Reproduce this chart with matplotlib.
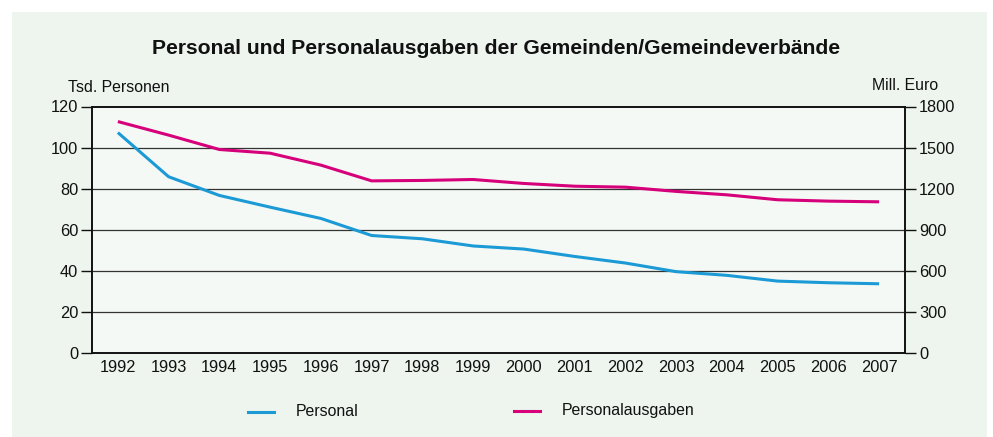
import matplotlib.pyplot as plt
from matplotlib.patches import Rectangle
from matplotlib.lines import Line2D

plt.rcParams['font.family'] = ['Liberation Sans', 'DejaVu Sans']

years = list(range(1992, 2008))
personal = [107.3, 85.8, 76.7, 71.0, 65.5, 57.2, 55.6, 52.1,
            50.6, 47.0, 43.8, 39.6, 37.8, 35.0, 34.2, 33.7]
ausgaben = [1690, 1591, 1486, 1459, 1372, 1257, 1260, 1267,
            1238, 1218, 1211, 1180, 1155, 1119, 1109, 1104]
left_ticks = [0, 20, 40, 60, 80, 100, 120]
right_ticks = [0, 300, 600, 900, 1200, 1500, 1800]

blue = '#1b9ad6'
magenta = '#d6007a'

fig = plt.figure(figsize=(9.93, 4.37), dpi=100)
fig.patch.set_facecolor('white')
# green panel behind everything
fig.patches.append(Rectangle((12 / 993, 0), 975 / 993, 425 / 437,
                             transform=fig.transFigure, facecolor='#eef5ee',
                             edgecolor='none', zorder=-10))

ax = fig.add_axes([92 / 993, 84 / 437, 813 / 993, 246.5 / 437])
ax.set_facecolor('#f5f9f6')
ax2 = ax.twinx()

ax.plot(years, personal, color=blue, lw=2.2, solid_capstyle='butt', zorder=3)
ax2.plot(years, ausgaben, color=magenta, lw=2.2, solid_capstyle='butt', zorder=3)

ax.set_xlim(1991.49, 2007.51)
ax.set_ylim(0, 120)
ax2.set_ylim(0, 1800)
ax.set_yticks(left_ticks)
ax2.set_yticks(right_ticks)
ax.set_xticks(years)
ax.set_xticklabels([str(y) for y in years])

# horizontal grid
for v in left_ticks[1:-1]:
    ax.axhline(v, color='#333333', lw=0.9, zorder=1)

for a in (ax, ax2):
    for s in a.spines.values():
        s.set_color('#111111')
        s.set_linewidth(1.2)
ax.tick_params(axis='y', length=8, width=1, labelsize=11.8, pad=2, colors='#111111')
ax2.tick_params(axis='y', length=8, width=1, labelsize=11.8, pad=2, colors='#111111')
ax.tick_params(axis='x', length=0, labelsize=11.8, pad=5, colors='#111111')

# formatting
fig.text(0.5, 0.89, 'Personal und Personalausgaben der Gemeinden/Gemeindeverbände',
         ha='center', va='center', fontsize=15.2, fontweight='bold', color='#111111')
fig.text(68 / 993, 1 - 88 / 437, 'Tsd. Personen', ha='left', va='center',
         fontsize=11.4, color='#111111')
fig.text(938 / 993, 1 - 85 / 437, 'Mill. Euro', ha='right', va='center',
         fontsize=11.4, color='#111111')

# legend drawn by hand below the axes
fig.lines.append(Line2D([248 / 993, 274 / 993], [1 - 412 / 437] * 2,
                        transform=fig.transFigure, color=blue, lw=2.2))
fig.text(296 / 993, 1 - 412 / 437, 'Personal', ha='left', va='center',
         fontsize=11.4, color='#111111')
fig.lines.append(Line2D([514 / 993, 540 / 993], [1 - 411 / 437] * 2,
                        transform=fig.transFigure, color=magenta, lw=2.2))
fig.text(562 / 993, 1 - 410 / 437, 'Personalausgaben', ha='left', va='center',
         fontsize=11.4, color='#111111')

plt.savefig('out.png', dpi=100)
